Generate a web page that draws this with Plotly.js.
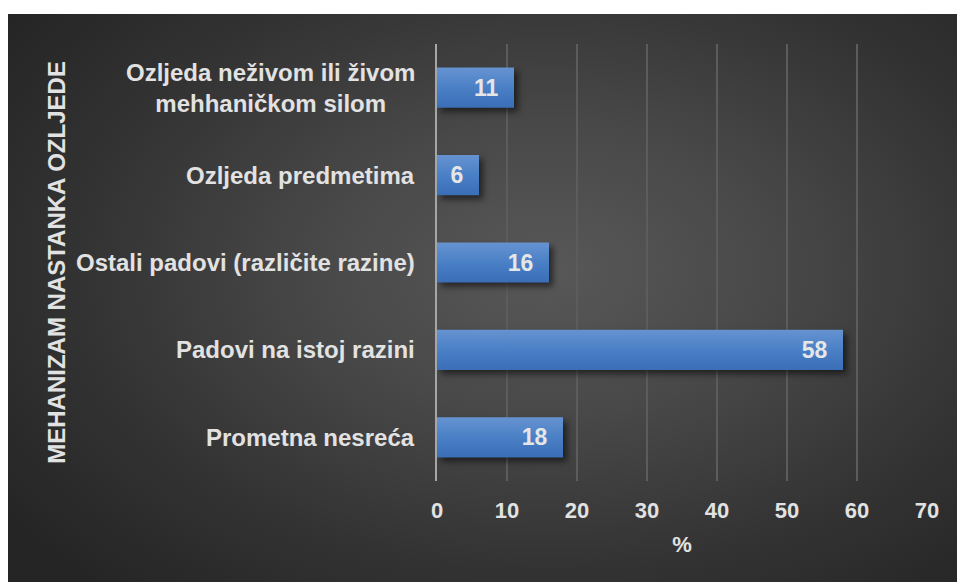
<!DOCTYPE html>
<html>
<head>
<meta charset="utf-8">
<script src="https://cdn.plot.ly/plotly-3.0.1.min.js"></script>
<style>
html, body { margin: 0; padding: 0; background: #ffffff; }
#wrap { position: absolute; left: 0; top: 0; width: 957px; height: 582px; background: #ffffff; }
#bg { position: absolute; left: 8px; top: 14px; width: 949px; height: 568px;
  background: radial-gradient(ellipse 70% 75% at 57% 45%, #585858 0%, #484848 35%, #333333 70%, #252525 100%); }
#chart { position: absolute; left: 0; top: 0; width: 957px; height: 582px; }
#chart .barlayer .point path { fill: url(#barGrad) !important; filter: drop-shadow(4px 4px 3px rgba(0,0,0,0.55)); }
</style>
</head>
<body>
<svg width="0" height="0" style="position:absolute">
  <defs>
    <linearGradient id="barGrad" x1="0" y1="0" x2="0" y2="1">
      <stop offset="0" stop-color="#6693d1"/>
      <stop offset="0.5" stop-color="#4a80c6"/>
      <stop offset="1" stop-color="#3a6eb7"/>
    </linearGradient>
  </defs>
</svg>
<div id="wrap"><div id="bg"></div><div id="chart"></div></div>
<script>
const categories = [
  "Prometna nesreća",
  "Padovi na istoj razini",
  "Ostali padovi (različite razine)",
  "Ozljeda predmetima",
  "Ozljeda neživom ili živom<br>mehhaničkom silom"
];
const values = [18, 58, 16, 6, 11];
const xTicks = [0, 10, 20, 30, 40, 50, 60, 70];
const yTitle = "MEHANIZAM NASTANKA OZLJEDE";
const xTitle = "%";

const font = "Liberation Sans, Arial, sans-serif";
const txtColor = "#e2e2e2";

const trace = {
  type: "bar",
  orientation: "h",
  y: categories,
  x: values,
  width: 0.46,
  marker: { color: "#4a7fc5", line: { width: 0 } },
  text: values.map(v => v + "\u00a0\u00a0"),
  textposition: "inside",
  insidetextanchor: "end",
  textfont: { family: font, size: 23, color: "#e6e6e6", weight: "bold" },
  cliponaxis: false,
  hoverinfo: "none"
};

const annotations = categories.map(c => ({
  xref: "paper", yref: "y", x: 0, y: c,
  xanchor: "right", yanchor: "middle", xshift: -20,
  text: "<b>" + c + "</b>", showarrow: false, align: "center",
  font: { family: font, size: 24, color: txtColor }
}));

const layout = {
  width: 957, height: 582,
  paper_bgcolor: "rgba(0,0,0,0)",
  plot_bgcolor: "rgba(0,0,0,0)",
  margin: { l: 437, r: 30, t: 44, b: 101, pad: 0 },
  showlegend: false,
  bargap: 0.54,
  font: { family: font, color: txtColor },
  xaxis: {
    range: [0, 70],
    tickvals: xTicks,
    ticktext: xTicks.map(v => "<b>" + v + "</b>"),
    tickfont: { family: font, size: 22, color: txtColor },
    showgrid: true, gridcolor: "#5c5c5c", gridwidth: 2,
    zeroline: false, showline: false, ticks: "",
    ticklabelstandoff: 14,
    title: { text: "<b>" + xTitle + "</b>", font: { family: font, size: 22, color: txtColor }, standoff: 14 },
    fixedrange: true
  },
  yaxis: {
    type: "category",
    showticklabels: false,
    showgrid: false, zeroline: false,
    showline: true, linecolor: "#a6a6a6", linewidth: 2,
    ticks: "",
    title: { text: "", font: { family: font, size: 24, color: txtColor } },
    fixedrange: true
  },
  annotations: annotations.concat([{
    xref: "paper", yref: "paper", x: -0.777, y: 0.5,
    xanchor: "center", yanchor: "middle",
    textangle: -90, showarrow: false,
    text: "<b>" + yTitle + "</b>",
    font: { family: font, size: 24, color: txtColor }
  }])
};

Plotly.newPlot("chart", [trace], layout, { displayModeBar: false, staticPlot: true });
</script>
</body>
</html>
